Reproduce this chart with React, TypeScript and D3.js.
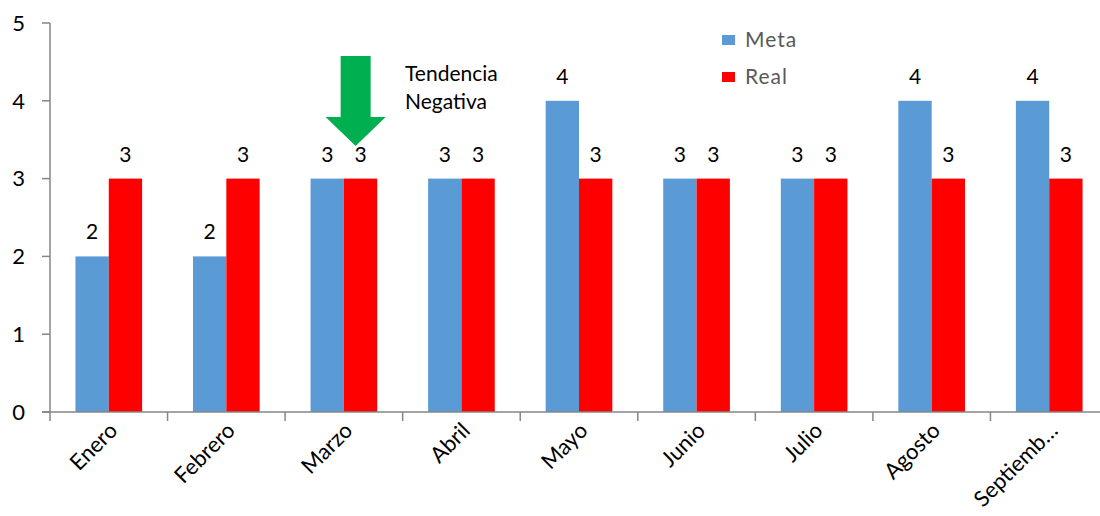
import React from 'react';
import * as d3 from 'd3';

const categories = ['Enero', 'Febrero', 'Marzo', 'Abril', 'Mayo', 'Junio', 'Julio', 'Agosto', 'Septiemb…'];
const metaValues = [2, 2, 3, 3, 4, 3, 3, 4, 4];
const realValues = [3, 3, 3, 3, 3, 3, 3, 3, 3];
const seriesNames = ['Meta', 'Real'];
const seriesColors = ['#5B9BD5', '#FF0000'];
const yTicks = [0, 1, 2, 3, 4, 5];

const width = 1100;
const height = 516;
const margin = { top: 23, right: -8, bottom: 104, left: 50 };
const font = 'Lato, "Open Sans", sans-serif';
const axisColor = '#868686';

export default function App() {
    const x = d3.scaleBand(categories, [margin.left, width - margin.right]);
    const inner = d3.scaleBand(seriesNames, [x.bandwidth() * 0.2165, x.bandwidth() * 0.7835]);
    const y = d3.scaleLinear([0, 5], [height - margin.bottom, margin.top]);
    const series = [metaValues, realValues];

    // arrow sits over the Marzo pair, a bit right of centre
    const arrowX = (x('Marzo') ?? 0) + x.bandwidth() * 0.6;

    return (
        <svg
            width={width}
            height={height}
            style={{ position: 'absolute', left: 0, top: 0, display: 'block', background: '#fff' }}
        >
            {/* bars */}
            {series.map((vals, s) => (
                <g key={s} fill={seriesColors[s]}>
                    {vals.map((v, i) => (
                        <rect
                            key={i}
                            x={(x(categories[i]) ?? 0) + (inner(seriesNames[s]) ?? 0)}
                            y={y(v)}
                            width={inner.bandwidth()}
                            height={y(0) - y(v)}
                        />
                    ))}
                </g>
            ))}

            {/* data labels */}
            {series.map((vals, s) => (
                <g key={s} fontFamily={font} fontSize={21} fill="#000" textAnchor="middle">
                    {vals.map((v, i) => (
                        <text
                            key={i}
                            x={(x(categories[i]) ?? 0) + (inner(seriesNames[s]) ?? 0) + inner.bandwidth() / 2}
                            y={y(v) - 17}
                        >
                            {v}
                        </text>
                    ))}
                </g>
            ))}

            {/* y axis */}
            <g stroke={axisColor} strokeWidth={1.5}>
                <line x1={margin.left} x2={margin.left} y1={y(5)} y2={y(0)} />
                {yTicks.map((t) => (
                    <line key={t} x1={margin.left - 8} x2={margin.left} y1={y(t)} y2={y(t)} />
                ))}
            </g>
            <g fontFamily={font} fontSize={22} fill="#000" textAnchor="end">
                {yTicks.map((t) => (
                    <text key={t} x={margin.left - 25} y={y(t)} dy="0.35em">
                        {t}
                    </text>
                ))}
            </g>

            {/* x axis */}
            <g stroke={axisColor} strokeWidth={1.5}>
                <line x1={margin.left - 8} x2={width} y1={y(0)} y2={y(0)} />
                {categories.map((c) => (
                    <line key={c} x1={x(c)} x2={x(c)} y1={y(0)} y2={y(0) + 9} />
                ))}
            </g>
            <g fontFamily={font} fontSize={22} fill="#000" textAnchor="end">
                {categories.map((c) => (
                    <text
                        key={c}
                        transform={`translate(${(x(c) ?? 0) + x.bandwidth() / 2 + 10},${y(0) + 20}) rotate(-45)`}
                    >
                        {c}
                    </text>
                ))}
            </g>

            {/* arrow annotation */}
            <path
                fill="#00B050"
                d={`M${arrowX - 15},56 L${arrowX + 15},56 L${arrowX + 15},117 L${arrowX + 30},117 L${arrowX},146 L${arrowX - 30},117 L${arrowX - 15},117 Z`}
            />
            <g fontFamily={font} fontSize={21} fill="#000">
                <text x={405} y={81}>Tendencia</text>
                <text x={405} y={109}>Negativa</text>
            </g>

            {/* legend */}
            {seriesNames.map((name, s) => (
                <g key={name} transform={`translate(722,${35 + s * 37})`}>
                    <rect width={13} height={10} fill={seriesColors[s]} />
                    <text x={23} y={5} dy="0.35em" fontFamily={font} fontSize={21} letterSpacing={1} fill="#595959">
                        {name}
                    </text>
                </g>
            ))}
        </svg>
    );
}
